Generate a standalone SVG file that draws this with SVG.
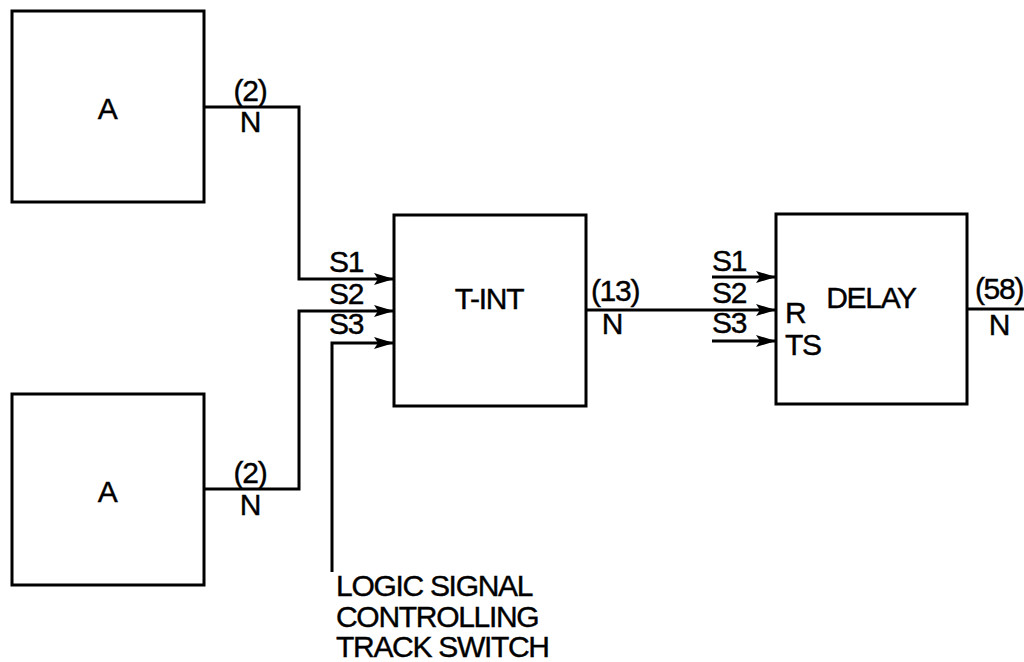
<svg xmlns="http://www.w3.org/2000/svg" width="1024" height="662" viewBox="0 0 1024 662">
<style>
.box{fill:#fff;stroke:#000;stroke-width:3}
.w{fill:none;stroke:#000;stroke-width:3}
.t{font-family:"Liberation Sans",Arial,Helvetica,sans-serif;font-size:30px;fill:#000;stroke:#000;stroke-width:0.4;letter-spacing:-1.3px}
.c{text-anchor:middle}
</style>
<defs>
<marker id="ah" viewBox="0 0 20 12" refX="20" refY="6" markerWidth="20" markerHeight="12" markerUnits="userSpaceOnUse" orient="auto">
<path d="M0,0 L20,6 L0,12 L4,6 Z" fill="#000"/>
</marker>
</defs>
<rect width="1024" height="662" fill="#fff"/>
<g id="connectors">
<path class="w" d="M204,107 H299 V279 H394" marker-end="url(#ah)"/>
<path class="w" d="M204,489 H299 V311 H394" marker-end="url(#ah)"/>
<path class="w" d="M332,572 V343 H394" marker-end="url(#ah)"/>
<path class="w" d="M586,310 H776" marker-end="url(#ah)"/>
<path class="w" d="M712,277 H776" marker-end="url(#ah)"/>
<path class="w" d="M712,341 H776" marker-end="url(#ah)"/>
<path class="w" d="M967,309 H1024"/>
<text class="t c" x="250" y="101">(2)</text>
<text class="t c" x="250" y="132">N</text>
<text class="t c" x="250" y="483">(2)</text>
<text class="t c" x="250" y="515">N</text>
<text class="t c" x="346" y="272">S1</text>
<text class="t c" x="346" y="304">S2</text>
<text class="t c" x="346" y="334">S3</text>
<text class="t c" x="615" y="301">(13)</text>
<text class="t c" x="612" y="334">N</text>
<text class="t c" x="729" y="271">S1</text>
<text class="t c" x="729" y="303">S2</text>
<text class="t c" x="729" y="333">S3</text>
<text class="t c" x="999" y="299">(58)</text>
<text class="t c" x="999" y="335">N</text>
<text class="t" x="336" y="596">LOGIC SIGNAL</text>
<text class="t" x="336" y="627">CONTROLLING</text>
<text class="t" x="336" y="657">TRACK SWITCH</text>
</g>
<g id="A1">
<rect class="box" x="12" y="11" width="192" height="191"/>
<text class="t c" x="107" y="119">A</text>
</g>
<g id="A2">
<rect class="box" x="12" y="394" width="192" height="191"/>
<text class="t c" x="107" y="502">A</text>
</g>
<g id="TINT">
<rect class="box" x="394" y="215" width="192" height="191"/>
<text class="t c" x="489" y="309">T-INT</text>
</g>
<g id="DELAY">
<rect class="box" x="776" y="214" width="191" height="190"/>
<text class="t c" x="871" y="308">DELAY</text>
<text class="t" x="785" y="323">R</text>
<text class="t" x="785" y="355">TS</text>
</g>
</svg>
